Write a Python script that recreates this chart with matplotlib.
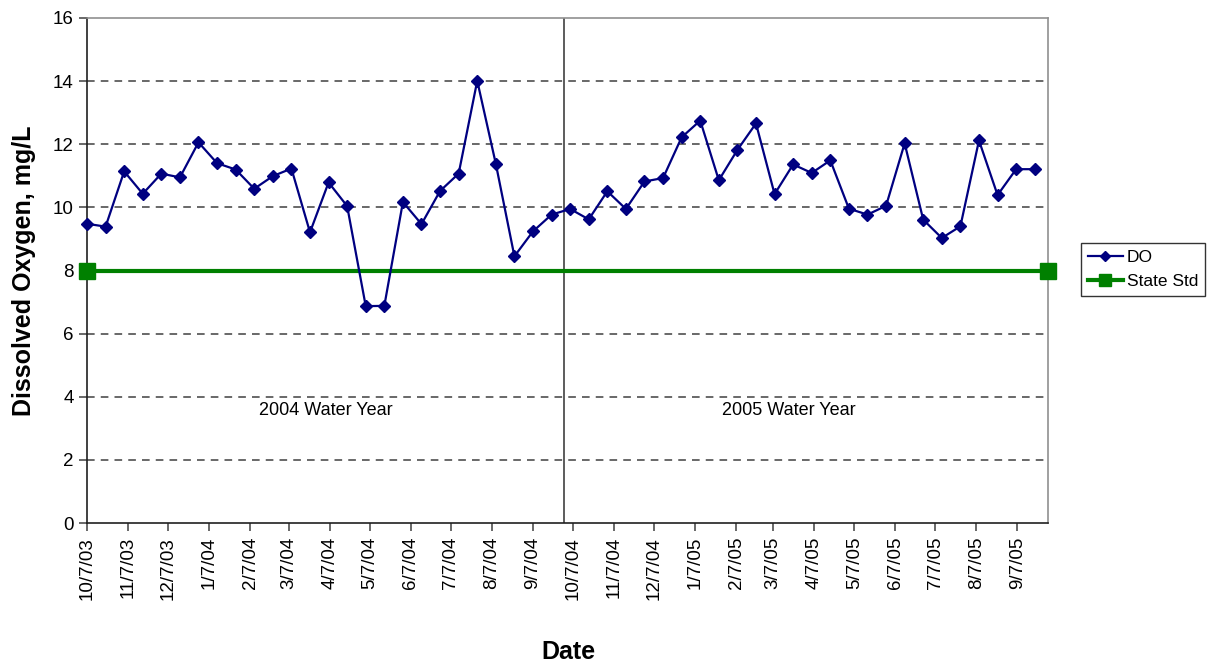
import datetime as dt
import matplotlib
matplotlib.use("Agg")
import matplotlib.pyplot as plt
import matplotlib.dates as mdates

plt.rcParams['font.family'] = ['Liberation Sans', 'DejaVu Sans']

# Biweekly dissolved oxygen samples, 10/7/03 onward
start = dt.date(2003, 10, 7)
do_dates = [start + dt.timedelta(days=14 * k) for k in range(52)]
do_values = [9.48, 9.39, 11.14, 10.43, 11.07, 10.95, 12.06, 11.40, 11.20, 10.59,
             10.99, 11.23, 9.21, 10.79, 10.04, 6.87, 6.88, 10.17, 9.47, 10.52,
             11.07, 14.01, 11.38, 8.45, 9.24, 9.77, 9.95, 9.62, 10.51, 9.95,
             10.82, 10.93, 12.22, 12.75, 10.86, 11.82, 12.66, 10.42, 11.36, 11.09,
             11.49, 9.96, 9.77, 10.05, 12.03, 9.61, 9.03, 9.40, 12.12, 10.39,
             11.21, 11.21]

# State standard line across both water years
std_dates = [dt.date(2003, 10, 7), dt.date(2005, 9, 30)]
std_values = [8, 8]

year_split = dt.date(2004, 9, 30)
year_labels = ["2004 Water Year", "2005 Water Year"]
year_label_dates = [dt.date(2004, 4, 4), dt.date(2005, 3, 19)]
tick_dates = [dt.date(2003 + (m + 9) // 12, (m + 9) % 12 + 1, 7) for m in range(24)]

fig = plt.figure(figsize=(12.18, 6.64), dpi=100)
ax = fig.add_axes([87 / 1218, 1 - 523 / 664, (1048 - 87) / 1218, (523 - 18) / 664])

ax.set_ylim(0, 16)
ax.set_xlim(std_dates[0], std_dates[1])
ax.set_yticks(range(0, 17, 2))
for y in range(2, 16, 2):
    ax.axhline(y, color='#404040', lw=1.1, ls=(0, (5, 4)), zorder=1)

ax.plot(do_dates, do_values, color='#000080', lw=1.6, marker='D', ms=6,
        label='DO', zorder=4, clip_on=False)
ax.plot(std_dates, std_values, color='#008000', lw=3, marker='s', ms=11,
        label='State Std', zorder=3, clip_on=False)
ax.axvline(year_split, color='#303030', lw=1.1, zorder=2)

for d, txt in zip(year_label_dates, year_labels):
    ax.text(d, 3.55, txt, ha='center', va='center', fontsize=13)

ax.set_xticks(tick_dates)
ax.xaxis.set_major_formatter(mdates.DateFormatter('%-m/%-d/%y'))
plt.setp(ax.get_xticklabels(), rotation=90)
ax.tick_params(axis='both', direction='out', length=6, width=1.1, labelsize=13.5,
               color='#404040')
ax.tick_params(axis='x', pad=4)

for side in ['left', 'bottom']:
    ax.spines[side].set_color('#202020')
    ax.spines[side].set_linewidth(1.2)
for side in ['top', 'right']:
    ax.spines[side].set_color('#909090')
    ax.spines[side].set_linewidth(1.2)

ax.set_ylabel('Dissolved Oxygen, mg/L', fontsize=18, fontweight='bold', labelpad=12)
fig.text(568 / 1218, 1 - 652 / 664, 'Date', fontsize=18, fontweight='bold',
         ha='center', va='center')

leg = fig.legend(loc='upper left', bbox_to_anchor=(1081 / 1218, 1 - 243 / 664),
                 fontsize=12.5, frameon=True, fancybox=False, edgecolor='black',
                 handlelength=2.0, borderpad=0.4, labelspacing=0.5,
                 handletextpad=0.25, borderaxespad=0, markerscale=0.85)
leg.get_frame().set_linewidth(1.0)

fig.savefig('out.png', dpi=100)
